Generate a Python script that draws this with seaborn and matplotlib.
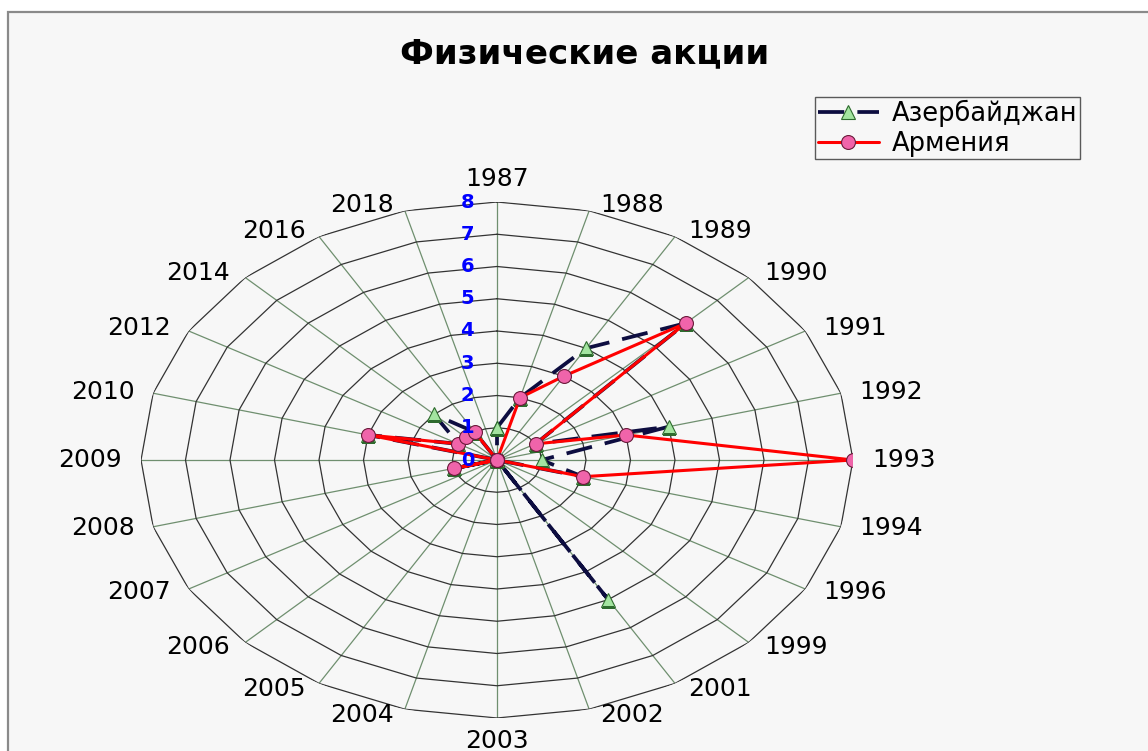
import numpy as np
import pandas as pd
import matplotlib
matplotlib.use("Agg")
import matplotlib.pyplot as plt
from matplotlib.patches import Rectangle
from matplotlib.lines import Line2D
import seaborn as sns

# ---------------- data ----------------
years = ["1987", "1988", "1989", "1990", "1991", "1992", "1993", "1994", "1996",
         "1999", "2001", "2002", "2003", "2004", "2005", "2006", "2007", "2008",
         "2009", "2010", "2012", "2014", "2016", "2018"]
azerbaijan = [1, 2, 4, 6, 1, 4, 1, 2, 0, 0, 5, 0, 0, 0, 0, 0, 0, 1, 0, 3, 1, 2, 1, 0]
armenia = [0, 2, 3, 6, 1, 3, 8, 2, 0, 0, 0, 0, 0, 0, 0, 0, 0, 1, 0, 3, 1, 1, 1, 0]
r_ticks = [0, 1, 2, 3, 4, 5, 6, 7, 8]
title = "Физические акции"
series_names = ["Азербайджан", "Армения"]

# ---------------- style ----------------
sns.set_style("white")
plt.rcParams["font.family"] = ["DejaVu Sans"]
plt.rcParams["text.color"] = "black"
plt.rcParams["legend.labelcolor"] = "black"

W, H = 1148, 751
fig = plt.figure(figsize=(W / 100, H / 100), dpi=100, facecolor="white")

# chart area background with border
fig.patches.append(Rectangle((8 / W, -0.1), 1.2, (H - 12) / H + 0.1,
                             transform=fig.transFigure, facecolor="#f7f7f7",
                             edgecolor="#8a8a8a", linewidth=1.6, zorder=-10))

cx, cy = 497, 460
rx, ry = 356, 258
ax = fig.add_axes([(cx - rx) / W, (H - cy - ry) / H, 2 * rx / W, 2 * ry / H],
                  projection="polar")
ax.set_aspect("auto")
ax.set_facecolor("none")
ax.patch.set_alpha(0)
ax.set_theta_zero_location("N")
ax.set_theta_direction(-1)

n = len(years)
theta = np.arange(n) * 2 * np.pi / n
theta_c = np.append(theta, 2 * np.pi)

AZ_KW = dict(color="#0d0d40", linewidth=2.7, marker="^", markersize=10,
             markerfacecolor="#a3e4a0", markeredgecolor="#2e6b2e",
             markeredgewidth=0.8)
AM_KW = dict(color="#ff0000", linewidth=2.2, marker="o", markersize=10,
             markerfacecolor="#f064aa", markeredgecolor="#6a1a3a",
             markeredgewidth=0.8)

# series
df = pd.DataFrame({"theta": theta_c,
                   "az": azerbaijan + azerbaijan[:1],
                   "am": armenia + armenia[:1]})
sns.lineplot(data=df, x="theta", y="az", sort=False, ax=ax,
             label=series_names[0], zorder=3, **AZ_KW)
ax.lines[-1].set_dashes([7, 3.5])
sns.lineplot(data=df, x="theta", y="am", sort=False, ax=ax,
             label=series_names[1], zorder=4, **AM_KW)
ax.set_xlabel("")
ax.set_ylabel("")
if ax.get_legend() is not None:
    ax.get_legend().remove()

# polygon rings
for k in r_ticks[1:]:
    ax.plot(theta_c, [k] * (n + 1), color="#333333", linewidth=0.9, zorder=1)

ax.set_ylim(0, 8)
ax.set_xlim(0, 2 * np.pi)

# spokes via theta grid
ax.set_xticks(theta)
ax.set_xticklabels([])
ax.set_yticks([])
ax.xaxis.grid(True, color="#6f8f6f", linewidth=0.9)
ax.yaxis.grid(False)
ax.spines["polar"].set_visible(False)
ax.tick_params(axis="x", length=0)

# category labels
for t, lab in zip(theta, years):
    s, c = np.sin(t), np.cos(t)
    if abs(s) < 1e-6:
        dx, dy, ha = 0, 23 * np.sign(c), "center"
    else:
        dx = np.sign(s) * (8 + 11 * abs(s))
        dy = 6 * c
        ha = "left" if s > 0 else "right"
    ax.annotate(lab, xy=(t, 8), xytext=(dx, dy), textcoords="offset pixels",
                ha=ha, va="center", fontsize=18, color="black",
                annotation_clip=False)

# radial labels
for k in r_ticks:
    ax.annotate(str(k), xy=(0, k), xytext=(-23, 0), textcoords="offset pixels",
                ha="right", va="center", fontsize=14, fontweight="bold",
                color="#0000ff", annotation_clip=False, zorder=5)

# title
fig.text(585 / W, 1 - 54 / H, title, ha="center", va="center",
         fontsize=24.5, fontweight="bold", color="black")

# legend
az_h = Line2D([], [], **AZ_KW)
az_h.set_dashes([7, 3.5])
am_h = Line2D([], [], **AM_KW)
leg = fig.legend([az_h, am_h], series_names, loc="upper left",
                 bbox_to_anchor=(815 / W, 1 - 97 / H), frameon=True,
                 fancybox=False, fontsize=18.5, handlelength=2.4,
                 handletextpad=0.5, borderpad=0.1, labelspacing=0.15,
                 borderaxespad=0)
for txt in leg.get_texts():
    txt.set_color("black")
leg.get_frame().set_edgecolor("#333333")
leg.get_frame().set_facecolor("#f7f7f7")
leg.get_frame().set_linewidth(1.0)

fig.savefig("out.png", dpi=100, facecolor=fig.get_facecolor())
